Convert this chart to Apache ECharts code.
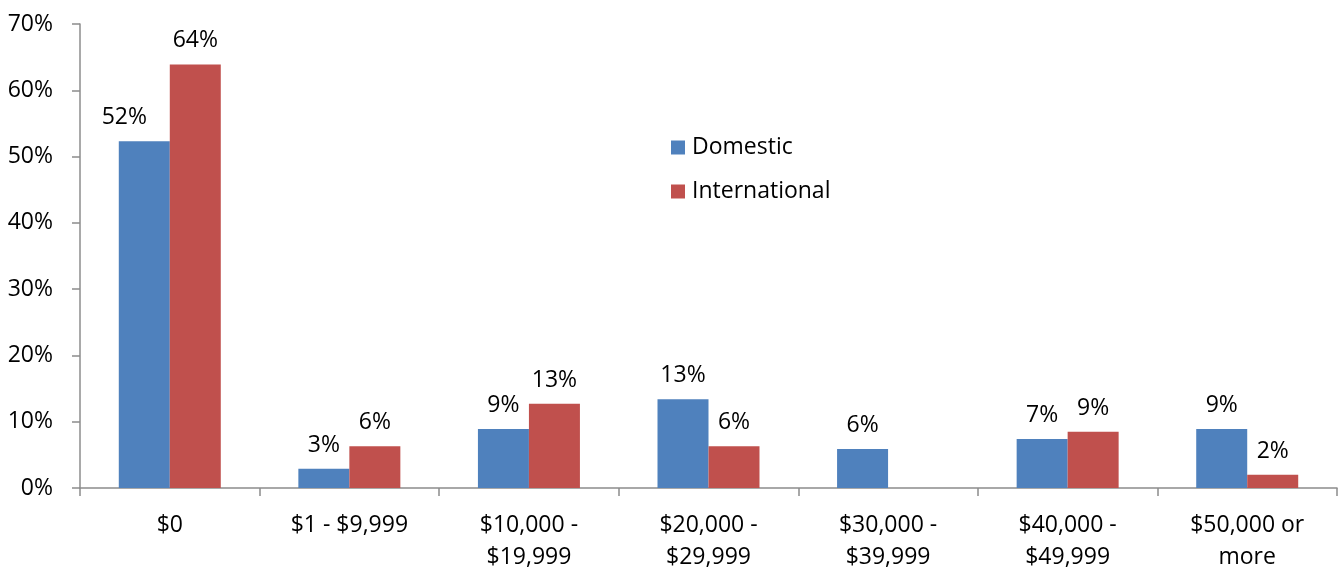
<!DOCTYPE html>
<html>
<head>
<meta charset="utf-8">
<script src="https://cdn.jsdelivr.net/npm/echarts@6/dist/echarts.min.js"></script>
<style>
  html, body { margin: 0; padding: 0; background: #fff; }
  #chart { width: 1338px; height: 567px; }
</style>
</head>
<body>
<div id="chart"></div>
<script>
// Income bands and share of respondents (percent) in each
const categories = ['$0', '$1 - $9,999', '$10,000 -\n$19,999', '$20,000 -\n$29,999', '$30,000 -\n$39,999', '$40,000 -\n$49,999', '$50,000 or\nmore'];
const domestic = [52.3, 2.9, 8.9, 13.4, 5.9, 7.4, 8.9];
const international = [63.9, 6.3, 12.7, 6.3, null, 8.5, 2.0];
const yTicks = [0, 10, 20, 30, 40, 50, 60, 70];

const FONT = '"Open Sans", "Noto Sans", sans-serif';
const FONT_SIZE = 23;
const AXIS_GRAY = '#8c8c8c';

const pctLabel = {
  show: true,
  position: 'top',
  distance: 12,
  color: '#000',
  fontFamily: FONT,
  fontSize: FONT_SIZE,
  formatter: p => (p.value == null ? '' : Math.round(p.value) + '%')
};

const chart = echarts.init(document.getElementById('chart'), null, { renderer: 'canvas' });
chart.setOption({
  animation: false,
  backgroundColor: '#fff',
  grid: { left: 80, right: 1, top: 24, bottom: 79, containLabel: false, outerBoundsMode: 'none' },
  legend: {
    orient: 'vertical',
    left: 671,
    top: 136,
    padding: 0,
    icon: 'rect',
    itemWidth: 14,
    itemHeight: 14,
    itemGap: 21,
    textStyle: { color: '#000', fontFamily: FONT, fontSize: FONT_SIZE, padding: [0, 0, 0, 2] },
    data: ['Domestic', 'International']
  },
  xAxis: {
    type: 'category',
    data: categories,
    boundaryGap: true,
    axisLine: { lineStyle: { color: AXIS_GRAY, width: 1.5 } },
    axisTick: { show: true, length: 8, alignWithLabel: false, lineStyle: { color: AXIS_GRAY, width: 1.5 } },
    axisLabel: { color: '#000', fontFamily: FONT, fontSize: FONT_SIZE, lineHeight: 32, margin: 21, interval: 0 }
  },
  yAxis: {
    type: 'value',
    min: yTicks[0],
    max: yTicks[yTicks.length - 1],
    interval: 10,
    splitLine: { show: false },
    axisLine: { show: true, lineStyle: { color: AXIS_GRAY, width: 1.5 } },
    axisTick: { show: true, length: 8, lineStyle: { color: AXIS_GRAY, width: 1.5 } },
    axisLabel: { color: '#000', fontFamily: FONT, fontSize: FONT_SIZE, margin: 27, formatter: v => v + '%' }
  },
  series: [
    {
      name: 'Domestic',
      type: 'bar',
      barWidth: '28.4%',
      barGap: '0%',
      itemStyle: { color: '#4F81BD' },
      label: pctLabel,
      // the first label sits left of its bar so it clears the taller neighbour
      data: domestic.map((v, i) => (i === 0 ? { value: v, label: { offset: [-20, 0] } } : v))
    },
    {
      name: 'International',
      type: 'bar',
      barWidth: '28.4%',
      itemStyle: { color: '#C0504D' },
      label: pctLabel,
      data: international
    }
  ]
});
</script>
</body>
</html>
